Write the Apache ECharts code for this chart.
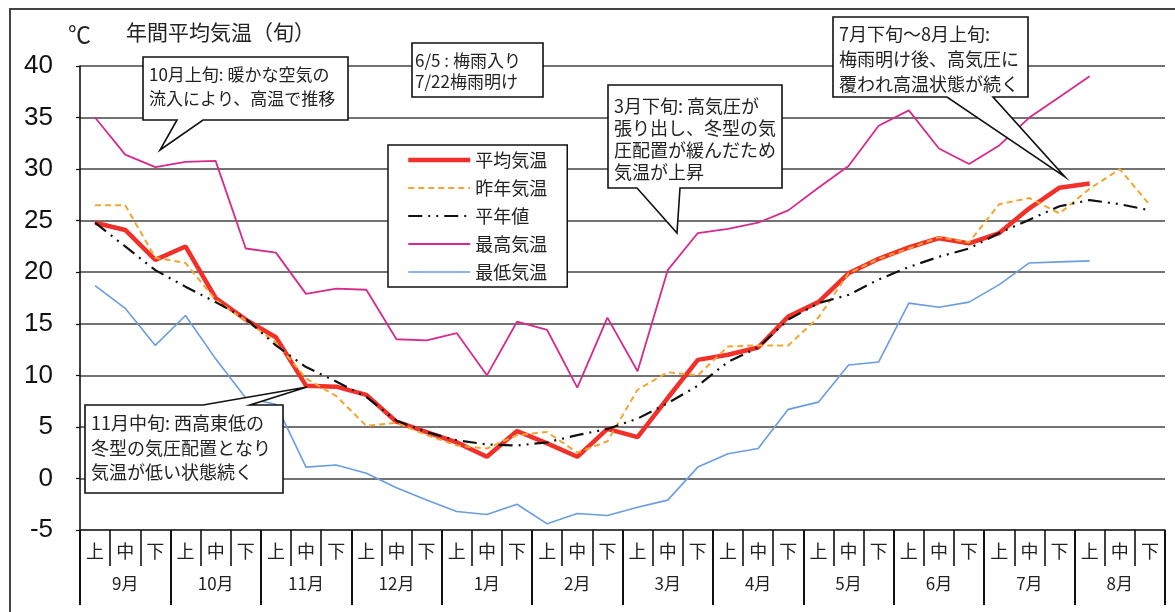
<!DOCTYPE html>
<html>
<head>
<meta charset="utf-8">
<script src="https://cdn.jsdelivr.net/npm/echarts@6/dist/echarts.min.js"></script>
<style>
html,body{margin:0;padding:0;background:#fff;}
#c{width:1175px;height:612px;}
</style>
</head>
<body>
<div id="c"></div>
<script>
// ---- data ----
var months = ['9月','10月','11月','12月','1月','2月','3月','4月','5月','6月','7月','8月'];
var dekads = ['上','中','下'];
var yTicks = { min: -5, max: 40, interval: 5 };

var meanTemp = [24.8, 24.1, 21.2, 22.5, 17.5, 15.4, 13.7, 9.0, 8.9, 8.1, 5.5, 4.5, 3.5, 2.1, 4.6, 3.4, 2.1, 4.8, 4.0, 7.8, 11.5, 12.0, 12.7, 15.7, 17.1, 19.9, 21.3, 22.4, 23.3, 22.8, 23.8, 26.2, 28.2, 28.6, null, null];
var lastYear = [26.5, 26.5, 21.4, 20.9, 17.3, 15.3, 13.2, 9.7, 8.0, 5.1, 5.4, 4.2, 3.2, 2.9, 4.2, 4.5, 2.5, 3.6, 8.6, 10.3, 10.0, 12.8, 12.9, 12.9, 15.6, 19.9, 21.3, 22.3, 23.4, 22.9, 26.6, 27.2, 25.7, 28.1, 30.0, 26.5];
var normalVal = [24.8, 22.5, 20.2, 18.6, 17.1, 15.5, 12.9, 10.8, 9.4, 7.9, 5.6, 4.5, 3.7, 3.3, 3.2, 3.5, 4.2, 4.8, 5.8, 7.3, 9.0, 11.3, 12.7, 15.4, 17.0, 17.8, 19.3, 20.5, 21.5, 22.3, 23.8, 25.1, 26.4, 27.0, 26.6, 26.0];
var maxTemp = [35.0, 31.4, 30.2, 30.7, 30.8, 22.3, 21.9, 17.9, 18.4, 18.3, 13.5, 13.4, 14.1, 10.0, 15.2, 14.4, 8.8, 15.6, 10.4, 20.2, 23.8, 24.2, 24.8, 26.0, 28.2, 30.3, 34.2, 35.7, 32.0, 30.5, 32.3, 35.0, 37.0, 39.0, null, null];
var minTemp = [18.7, 16.5, 12.9, 15.8, 11.6, 7.8, 7.2, 1.1, 1.3, 0.5, -0.9, -2.1, -3.2, -3.5, -2.5, -4.4, -3.4, -3.6, -2.8, -2.1, 1.1, 2.4, 2.9, 6.7, 7.4, 11.0, 11.3, 17.0, 16.6, 17.1, 18.8, 20.9, 21.0, 21.1, null, null];

var seriesNames = ['平均気温','昨年気温','平年値','最高気温','最低気温'];
var titleText = '年間平均気温（旬）';
var unitText = '℃';
var notes = [
  '10月上旬: 暖かな空気の\n流入により、高温で推移',
  '6/5 : 梅雨入り\n7/22梅雨明け',
  '3月下旬: 高気圧が\n張り出し、冬型の気\n圧配置が緩んだため\n気温が上昇',
  '7月下旬～8月上旬:\n梅雨明け後、高気圧に\n覆われ高温状態が続く',
  '11月中旬: 西高東低の\n冬型の気圧配置となり\n気温が低い状態続く'
];

// ---- build ----
var dekadLabels = [];
months.forEach(function(){ dekads.forEach(function(d){ dekadLabels.push(d); }); });

var JP = '"Noto Sans CJK JP", "Noto Sans", sans-serif';
var AR = '"Liberation Sans", Arial, sans-serif';

var styles = [
  { color: '#f2302a', width: 4.5, type: 'solid' },
  { color: '#f3a531', width: 2, type: [6, 4] },
  { color: '#111', width: 2.2, type: [14, 6, 2, 6, 2, 6] },
  { color: '#d62a8c', width: 1.8, type: 'solid' },
  { color: '#6a9de0', width: 1.6, type: 'solid' }
];
var seriesData = [meanTemp, lastYear, normalVal, maxTemp, minTemp];
var zs = [3, 4, 5, 2, 2];

function callout(points, text, tx, ty, fs, lh) {
  return [
    { type: 'polygon', z: 100, shape: { points: points },
      style: { fill: '#fff', stroke: '#111', lineWidth: 1.6 } },
    { type: 'text', z: 101, x: tx, y: ty,
      style: { text: text, font: fs + 'px ' + JP, fill: '#222', lineHeight: lh, verticalAlign: 'top' } }
  ];
}

var graphics = [].concat(
  [{ type: 'rect', z: 0, shape: { x: 10, y: 9, width: 1200, height: 640 },
     style: { fill: 'none', stroke: '#444', lineWidth: 2 } },
   { type: 'text', z: 10, x: 68, y: 23, style: { text: unitText, font: '23px ' + JP, fill: '#222' } },
   { type: 'text', z: 10, x: 126, y: 22, style: { text: titleText, font: '21px ' + JP, fill: '#222' } }],
  callout([[143,57],[348,57],[348,120],[203,120],[160,150],[177,120],[143,120]], notes[0], 149, 63, 17, 24),
  callout([[412,43],[543,43],[543,97],[412,97]], notes[1], 415, 50, 17, 21),
  callout([[608,85],[782,85],[782,188],[680,188],[677,233],[637,188],[608,188]], notes[2], 614, 95, 18, 22),
  callout([[833,17],[1028,17],[1028,97],[993,97],[1065,177],[947,97],[833,97]], notes[3], 839, 22, 18, 25),
  callout([[85,405],[203,405],[307,387],[250,405],[283,405],[283,493],[85,493]], notes[4], 91, 411, 18, 24.5)
);

var chart = echarts.init(document.getElementById('c'), null, { renderer: 'canvas' });
chart.setOption({
  animation: false,
  backgroundColor: '#fff',
  grid: { left: 80, right: 10, top: 66, bottom: 82, containLabel: false },
  legend: {
    orient: 'vertical', left: 388, top: 145,
    padding: [6, 20, 6, 18],
    itemWidth: 62, itemHeight: 14, itemGap: 10, itemTextGap: 5,
    backgroundColor: '#fff', borderColor: '#111', borderWidth: 1.5, borderRadius: 0,
    itemStyle: { opacity: 0, color: 'rgba(0,0,0,0)', borderWidth: 0 },
    textStyle: { fontSize: 18, lineHeight: 18, fontFamily: JP, color: '#222' },
    data: seriesNames.map(function (n, i) {
      return { name: n, lineStyle: { width: styles[i].width, type: styles[i].type, color: styles[i].color } };
    }),
    z: 50
  },
  xAxis: [
    { type: 'category', data: dekadLabels, position: 'bottom', boundaryGap: true,
      axisLine: { show: true, onZero: false, lineStyle: { color: '#333', width: 1.5 } },
      axisTick: { show: true, interval: 0, length: 36, lineStyle: { color: '#111', width: 1.6 } },
      axisLabel: { interval: 0, margin: 12, fontSize: 18, fontFamily: JP, color: '#222' },
      splitLine: { show: false } },
    { type: 'category', data: months, position: 'bottom', boundaryGap: true, offset: 0,
      axisLine: { show: false, onZero: false },
      axisTick: { show: true, interval: 0, length: 75, lineStyle: { color: '#111', width: 2 } },
      axisLabel: { interval: 0, margin: 45, fontSize: 17, fontFamily: JP, color: '#222' },
      splitLine: { show: false } }
  ],
  yAxis: {
    type: 'value', min: yTicks.min, max: yTicks.max, interval: yTicks.interval,
    axisLine: { show: true, lineStyle: { color: '#111', width: 1.6 } },
    axisTick: { show: true, length: 4, lineStyle: { color: '#111', width: 1.2 } },
    axisLabel: { margin: 27, fontSize: 26, fontFamily: AR, color: '#111' },
    splitLine: { show: true, lineStyle: { color: '#444', width: 1.5 } }
  },
  series: seriesNames.map(function (n, i) {
    return { name: n, type: 'line', data: seriesData[i], symbol: 'none', z: zs[i],
      lineStyle: { color: styles[i].color, width: styles[i].width, type: styles[i].type },
      itemStyle: { color: styles[i].color } };
  }),
  graphic: { elements: graphics }
});
</script>
</body>
</html>
